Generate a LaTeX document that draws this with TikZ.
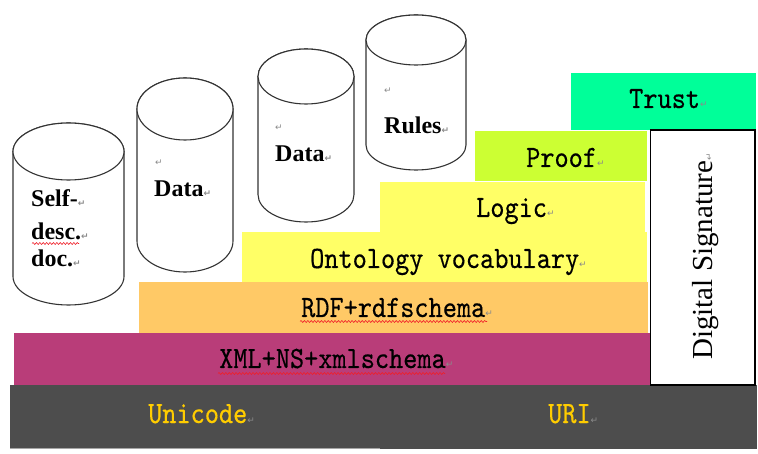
\documentclass[tikz,border=0pt]{standalone}
\usepackage{fontspec}
\setmainfont{Liberation Serif}
\newfontfamily\layerfont[FakeStretch=0.87,FakeBold=0.4]{lmmono10-regular.otf}
\newfontfamily\markfont{DejaVu Sans}
\usetikzlibrary{decorations.pathmorphing}

\definecolor{basegray}{HTML}{4D4D4D}
\definecolor{xmlpink}{HTML}{B93D79}
\definecolor{rdforange}{HTML}{FFC966}
\definecolor{ontoyellow}{HTML}{FFFF66}
\definecolor{prooflime}{HTML}{CCFF33}
\definecolor{trustgreen}{HTML}{00FF99}
\definecolor{goldtext}{HTML}{FFCC00}
\definecolor{markgray}{HTML}{8A8A8A}
\definecolor{drumline}{HTML}{333333}
\definecolor{wavered}{HTML}{F01E28}

% paragraph mark shown after each line
\newcommand\pmark{{\markfont\fontsize{9}{9}\selectfont\color{markgray}↵}}

% cylinder: centre x, top-ellipse y, bottom-ellipse y, x radius, y radius (y measured downwards)
\newcommand\drawdrum[5]{%
  \filldraw[drum] (#1-#4,-#2) -- (#1-#4,-#3)
    arc[start angle=180,end angle=360,x radius=#4,y radius=#5]
    -- (#1+#4,-#2)
    arc[start angle=0,end angle=180,x radius=#4,y radius=#5] -- cycle;
  \draw[drum] (#1,-#2) ellipse[x radius=#4,y radius=#5];}

\tikzset{
  drum/.style={draw=drumline, fill=white, line width=1.1pt},
  layertext/.style={font=\layerfont\fontsize{31}{33}\selectfont, inner sep=0pt, anchor=base west},
  drumtext/.style={font=\bfseries\fontsize{24}{30}\selectfont, inner sep=0pt, anchor=base west},
  marktext/.style={inner sep=0pt, anchor=base west},
  wavy/.style={draw=wavered, line width=0.6pt, decorate,
    decoration={snake, amplitude=1pt, segment length=3.4pt}},
}

\begin{document}
\begin{tikzpicture}[x=1pt,y=1pt]
\useasboundingbox (0,0) rectangle (758,-454);

% storage drums
\drawdrum{68.5}{151.5}{276.5}{55.5}{28.5}
\drawdrum{185}{109}{241}{48}{31}
\drawdrum{306}{76.5}{194.5}{48}{27.5}
\drawdrum{416}{40}{145}{50}{25}

\node[drumtext] (selfa) at (31,-207) {Self-\pmark};
\node[drumtext] (selfb) at (31,-240) {desc.\pmark};
\node[drumtext] (selfc) at (31,-267) {doc.\pmark};
\node[marktext] (dataonemark) at (155,-166) {\pmark};
\node[drumtext] (dataone) at (154,-197) {Data\pmark};
\node[marktext] (datatwomark) at (275,-131) {\pmark};
\node[drumtext] (datatwo) at (275,-162) {Data\pmark};
\node[marktext] (rulesmark) at (384,-94) {\pmark};
\node[drumtext] (rules) at (384,-134) {Rules\pmark};

% layer bars
\fill[basegray] (10,-385) rectangle (757,-449);
\draw[gray!70, line width=0.8pt] (10,-448.6) -- (380,-448.6);
\fill[xmlpink] (14,-333) rectangle (652,-385);
\fill[rdforange] (139,-282) rectangle (648,-333);
\fill[ontoyellow] (242,-232) rectangle (647,-282);
\fill[ontoyellow] (380,-182) rectangle (645,-232);
\fill[prooflime] (475,-131) rectangle (647,-181.5);
\fill[trustgreen] (571,-73) rectangle (756,-130);
\draw[black, line width=1.1pt, fill=white] (650.5,-130) rectangle (755,-385);

% layer labels
\node[layertext] (trust) at (629,-108) {Trust\pmark};
\node[layertext] (proof) at (526,-167) {Proof\pmark};
\node[layertext] (logic) at (476,-217) {Logic\pmark};
\node[layertext] (onto) at (310,-268) {Ontology vocabulary\pmark};
\node[layertext] (rdf) at (301,-317) {RDF+rdfschema\pmark};
\node[layertext] (xml) at (219,-368) {XML+NS+xmlschema\pmark};
\node[layertext, text=goldtext] (unicode) at (148,-423) {Unicode\pmark};
\node[layertext, text=goldtext] (uri) at (548,-423) {URI\pmark};
\node[inner sep=0pt, anchor=base west, rotate=90,
      font=\fontsize{29}{30}\selectfont] (sig) at (712,-360) {Digital Signature\pmark};

% spelling marks under words
\draw[wavy] (32,-243.5) -- (79,-243.5);
\draw[wavy] (300,-321.5) -- (487,-321.5);
\draw[wavy] (218,-373.5) -- (445,-373.5);
\end{tikzpicture}
\end{document}
